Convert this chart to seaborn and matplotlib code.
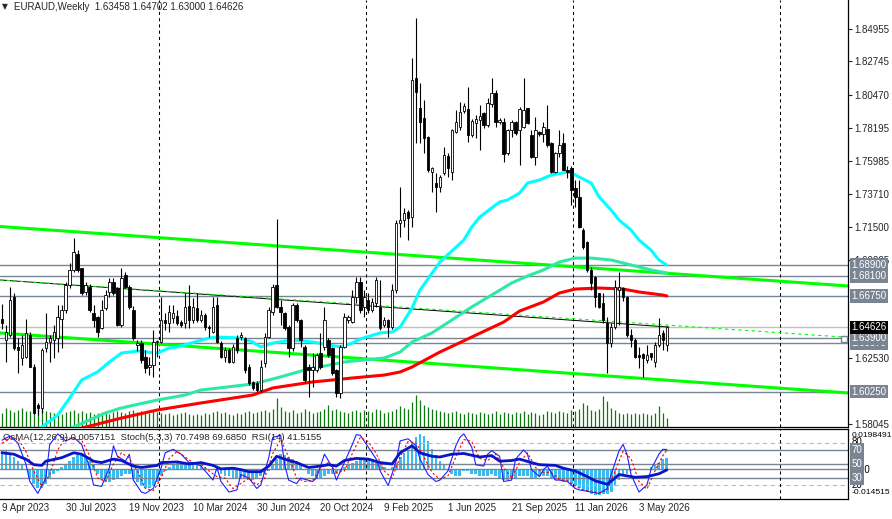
import numpy as np
import pandas as pd
import matplotlib
matplotlib.use('Agg')
import matplotlib.pyplot as plt
import matplotlib.transforms as mtransforms
import seaborn as sns

sns.set_style('white')
plt.rcParams['font.family'] = ['Liberation Sans', 'DejaVu Sans']

# EURAUD weekly candles, first bar = week of 9 Apr 2023
opens = [
    1.6520, 1.6377, 1.6411, 1.6672, 1.6330, 1.6252, 1.6263, 1.6411, 1.6195, 1.5934,
    1.5911, 1.6320, 1.6365, 1.6377, 1.6388, 1.6520, 1.6581, 1.6751, 1.6853, 1.6960,
    1.6865, 1.6706, 1.6740, 1.6558, 1.6535, 1.6456, 1.6592, 1.6706, 1.6774, 1.6729,
    1.6479, 1.6819, 1.6740, 1.6580, 1.6342, 1.6354, 1.6263, 1.6195, 1.6206, 1.6365,
    1.6365, 1.6513, 1.6490, 1.6524, 1.6540, 1.6501, 1.6490, 1.6608, 1.6513, 1.6592,
    1.6513, 1.6547, 1.6467, 1.6433, 1.6615, 1.6354, 1.6263, 1.6308, 1.6229, 1.6388,
    1.6399, 1.6388, 1.6195, 1.6092, 1.6081, 1.6036, 1.6217, 1.6399, 1.6570, 1.6751,
    1.6604, 1.6558, 1.6467, 1.6320, 1.6615, 1.6513, 1.6331, 1.6195, 1.6172, 1.6172,
    1.6286, 1.6331, 1.6376, 1.6320, 1.6172, 1.6013, 1.6331, 1.6513, 1.6501, 1.6672,
    1.6774, 1.6604, 1.6649, 1.6581, 1.6626, 1.6604, 1.6479, 1.6513, 1.6467, 1.6717,
    1.7171, 1.7194, 1.7251, 1.7217, 1.8159, 1.7955, 1.7887, 1.7762, 1.7524, 1.7444,
    1.7421, 1.7512, 1.7630, 1.7524, 1.7796, 1.7826, 1.7937, 1.7948, 1.7773, 1.7853,
    1.7876, 1.7926, 1.7842, 1.7982, 1.8057, 1.7860, 1.7864, 1.7648, 1.7807, 1.7864,
    1.7807, 1.7830, 1.7955, 1.7773, 1.7626, 1.7796, 1.7780, 1.7814, 1.7717, 1.7524,
    1.7648, 1.7717, 1.7535, 1.7546, 1.7410, 1.7353, 1.7126, 1.7047, 1.6854, 1.6808,
    1.6695, 1.6626, 1.6490, 1.6354, 1.6467, 1.6717, 1.6729, 1.6672, 1.6411, 1.6377,
    1.6274, 1.6281, 1.6240, 1.6286, 1.6229, 1.6343, 1.6422, 1.63458]
highs = [
    1.6620, 1.6479, 1.6740, 1.6694, 1.6388, 1.6411, 1.6517, 1.6430, 1.6210, 1.5950,
    1.6320, 1.6558, 1.6411, 1.6479, 1.6615, 1.6615, 1.6770, 1.6899, 1.7069, 1.6990,
    1.6870, 1.6770, 1.6760, 1.6615, 1.6540, 1.6649, 1.6717, 1.6797, 1.6800, 1.6735,
    1.6865, 1.6842, 1.6750, 1.6610, 1.6380, 1.6380, 1.6308, 1.6263, 1.6444, 1.6376,
    1.6672, 1.6558, 1.6615, 1.6615, 1.6581, 1.6510, 1.6694, 1.6751, 1.6660, 1.6694,
    1.6581, 1.6560, 1.6480, 1.6672, 1.6672, 1.6370, 1.6331, 1.6320, 1.6350, 1.6410,
    1.6430, 1.6400, 1.6210, 1.6100, 1.6100, 1.6240, 1.6422, 1.6600, 1.6760, 1.7200,
    1.6649, 1.6570, 1.6480, 1.6626, 1.6626, 1.6520, 1.6340, 1.6210, 1.6286, 1.6290,
    1.6422, 1.6604, 1.6390, 1.6330, 1.6180, 1.6340, 1.6558, 1.6550, 1.6717, 1.6808,
    1.6808, 1.6717, 1.6694, 1.6660, 1.6808, 1.6785, 1.6535, 1.6520, 1.6760, 1.7194,
    1.7421, 1.7273, 1.7260, 1.8296, 1.8568, 1.8125, 1.8012, 1.7770, 1.7558, 1.7512,
    1.7500, 1.7694, 1.7648, 1.7815, 1.7944, 1.8000, 1.7994, 1.8103, 1.7880, 1.7910,
    1.7978, 1.7930, 1.8023, 1.8159, 1.8080, 1.7890, 1.7887, 1.7815, 1.7876, 1.7870,
    1.7966, 1.8159, 1.7960, 1.7805, 1.7898, 1.7800, 1.7864, 1.7978, 1.7725, 1.7660,
    1.7807, 1.7785, 1.7560, 1.7560, 1.7467, 1.7467, 1.7140, 1.7050, 1.6876, 1.6815,
    1.6700, 1.6695, 1.6536, 1.6490, 1.6786, 1.6842, 1.6740, 1.6680, 1.6450, 1.6390,
    1.6331, 1.6290, 1.6343, 1.6290, 1.6365, 1.6524, 1.6445, 1.64702]
lows = [
    1.6450, 1.6229, 1.6399, 1.6308, 1.6149, 1.6206, 1.6252, 1.6190, 1.5870, 1.5866,
    1.5880, 1.6297, 1.6229, 1.6252, 1.6297, 1.6320, 1.6560, 1.6729, 1.6842, 1.6842,
    1.6683, 1.6683, 1.6570, 1.6467, 1.6399, 1.6451, 1.6581, 1.6672, 1.6683, 1.6470,
    1.6467, 1.6729, 1.6590, 1.6380, 1.6300, 1.6217, 1.6149, 1.6138, 1.6127, 1.6263,
    1.6354, 1.6444, 1.6433, 1.6490, 1.6479, 1.6467, 1.6456, 1.6456, 1.6490, 1.6501,
    1.6500, 1.6444, 1.6399, 1.6422, 1.6354, 1.6251, 1.6229, 1.6217, 1.6217, 1.6290,
    1.6376, 1.6149, 1.6070, 1.6036, 1.6020, 1.6024, 1.6195, 1.6390, 1.6550, 1.6592,
    1.6479, 1.6445, 1.6263, 1.6300, 1.6501, 1.6331, 1.6081, 1.5990, 1.6058, 1.6160,
    1.6180, 1.6308, 1.6263, 1.6140, 1.5990, 1.5979, 1.6320, 1.6490, 1.6490, 1.6626,
    1.6558, 1.6535, 1.6558, 1.6570, 1.6604, 1.6445, 1.6467, 1.6400, 1.6450, 1.6694,
    1.7080, 1.7149, 1.7058, 1.7150, 1.7717, 1.7717, 1.7648, 1.7524, 1.7387, 1.7251,
    1.7387, 1.7501, 1.7490, 1.7467, 1.7785, 1.7807, 1.7921, 1.7728, 1.7760, 1.7751,
    1.7671, 1.7819, 1.7830, 1.7966, 1.7830, 1.7850, 1.7592, 1.7640, 1.7762, 1.7773,
    1.7569, 1.7819, 1.7850, 1.7614, 1.7569, 1.7770, 1.7728, 1.7694, 1.7512, 1.7512,
    1.7626, 1.7535, 1.7480, 1.7296, 1.7285, 1.7137, 1.7000, 1.6842, 1.6717, 1.6604,
    1.6592, 1.6490, 1.6150, 1.6330, 1.6450, 1.6480, 1.6640, 1.6399, 1.6331, 1.6252,
    1.6184, 1.6127, 1.6218, 1.6240, 1.6195, 1.6331, 1.6308, 1.63000]
closes = [
    1.6490, 1.6433, 1.6649, 1.6320, 1.6310, 1.6342, 1.6422, 1.6195, 1.5877, 1.5911,
    1.6308, 1.6365, 1.6388, 1.6433, 1.6535, 1.6581, 1.6751, 1.6853, 1.6978, 1.6853,
    1.6694, 1.6751, 1.6581, 1.6513, 1.6433, 1.6581, 1.6683, 1.6774, 1.6694, 1.6479,
    1.6797, 1.6740, 1.6604, 1.6388, 1.6354, 1.6240, 1.6183, 1.6206, 1.6365, 1.6370,
    1.6513, 1.6490, 1.6569, 1.6558, 1.6490, 1.6479, 1.6603, 1.6513, 1.6603, 1.6513,
    1.6547, 1.6467, 1.6456, 1.6603, 1.6365, 1.6263, 1.6308, 1.6229, 1.6331, 1.6308,
    1.6410, 1.6172, 1.6081, 1.6047, 1.6036, 1.6195, 1.6399, 1.6581, 1.6740, 1.6604,
    1.6570, 1.6456, 1.6320, 1.6615, 1.6513, 1.6376, 1.6104, 1.6172, 1.6195, 1.6274,
    1.6195, 1.6513, 1.6274, 1.6149, 1.6013, 1.6331, 1.6535, 1.6535, 1.6672, 1.6774,
    1.6581, 1.6672, 1.6581, 1.6638, 1.6785, 1.6456, 1.6513, 1.6467, 1.6717, 1.7171,
    1.7194, 1.7239, 1.7210, 1.8148, 1.8069, 1.7864, 1.7751, 1.7535, 1.7546, 1.7421,
    1.7490, 1.7637, 1.7546, 1.7807, 1.7864, 1.7932, 1.7971, 1.7773, 1.7869, 1.7880,
    1.7903, 1.7842, 1.7989, 1.8057, 1.7864, 1.7876, 1.7644, 1.7807, 1.7864, 1.7785,
    1.7948, 1.7944, 1.7857, 1.7626, 1.7807, 1.7778, 1.7830, 1.7705, 1.7524, 1.7648,
    1.7705, 1.7535, 1.7524, 1.7399, 1.7353, 1.7149, 1.7013, 1.6854, 1.6763, 1.6672,
    1.6604, 1.6513, 1.6354, 1.6467, 1.6740, 1.6740, 1.6672, 1.6411, 1.6377, 1.6263,
    1.6263, 1.6252, 1.6274, 1.6263, 1.6343, 1.6411, 1.6377, 1.64626]
volumes = [
    14, 19, 17, 15, 17, 19, 16, 16, 19, 18,
    20, 16, 15, 14, 15, 13, 15, 16, 17, 14,
    16, 14, 15, 13, 14, 15, 14, 13, 15, 16,
    15, 14, 16, 17, 15, 16, 15, 14, 16, 15,
    14, 13, 14, 12, 13, 14, 15, 13, 12, 13,
    12, 14, 13, 15, 16, 14, 15, 13, 12, 14,
    13, 15, 16, 14, 15, 16, 17, 15, 18, 29,
    20, 16, 15, 17, 14, 15, 18, 16, 14, 15,
    16, 18, 22, 17, 18, 16, 15, 14, 16, 17,
    15, 17, 16, 15, 18, 17, 14, 15, 16, 18,
    21, 19, 18, 25, 32, 27, 22, 20, 18, 17,
    16, 15, 14, 15, 16, 14, 13, 15, 14, 13,
    15, 14, 13, 14, 16, 13, 15, 14, 13, 15,
    14, 16, 13, 15, 14, 12, 13, 16, 15, 14,
    16, 15, 14, 17, 16, 18, 24, 22, 17, 16,
    18, 31, 26, 19, 17, 14, 13, 14, 13, 14,
    13, 14, 13, 12, 14, 21, 14, 9]

# moving averages (bar index, price)
ma_fast_bars = [7, 10, 14, 17, 20, 24, 27, 30, 34, 39, 42, 44, 52, 54, 60, 63, 65, 68, 73, 78,
                85, 88, 90, 95, 98, 100, 103, 105, 110, 116, 118, 120, 125, 127, 130, 132,
                135, 138, 142, 143, 145, 148, 150, 153, 155, 158, 160, 163, 165, 167]
ma_fast = [1.5660, 1.5784, 1.5866, 1.5982, 1.6104, 1.6159, 1.6227, 1.6288, 1.6302, 1.6288,
           1.6322, 1.6329, 1.6390, 1.6397, 1.6390, 1.6363, 1.6329, 1.6356, 1.6377, 1.6363,
           1.6329, 1.6356, 1.6384, 1.6425, 1.6431, 1.6465, 1.6595, 1.6717, 1.6908, 1.7058,
           1.7147, 1.7215, 1.7317, 1.7331, 1.7378, 1.7446, 1.7467, 1.7501, 1.7521, 1.7515,
           1.7487, 1.7446, 1.7351, 1.7262, 1.7194, 1.7126, 1.7058, 1.6990, 1.6922, 1.6888]
ma_mid_bars = [15, 18, 26, 30, 39, 46, 50, 63, 69, 76, 86, 96, 100, 103, 108, 113, 118, 123,
               128, 132, 136, 140, 144, 148, 153, 158, 163, 167]
ma_mid = [1.5740, 1.5784, 1.5880, 1.5914, 1.5968, 1.6002, 1.6036, 1.6077, 1.6118, 1.6172,
          1.6227, 1.6254, 1.6295, 1.6363, 1.6425, 1.6513, 1.6602, 1.6683, 1.6765, 1.6813,
          1.6854, 1.6908, 1.6935, 1.6935, 1.6922, 1.6888, 1.6854, 1.6833]
ma_slow_bars = [17, 21, 30, 39, 50, 63, 68, 78, 88, 96, 100, 103, 110, 118, 126, 130, 136,
                140, 144, 150, 156, 160, 166, 167]
ma_slow = [1.5755, 1.5784, 1.5845, 1.5900, 1.5948, 1.6002, 1.6050, 1.6091, 1.6118, 1.6138,
           1.6159, 1.6193, 1.6295, 1.6397, 1.6499, 1.6574, 1.6636, 1.6697, 1.6724, 1.6731,
           1.6724, 1.6704, 1.6683, 1.6677]

# trend lines (bar, price) and horizontal levels
chan_bars = [-0.5, 212.5]
chan_upper = [1.7150, 1.6745]
chan_lower = [1.6425, 1.6016]
mid_bars = [-0.5, 167.5]
mid_line = [1.6786, 1.6465]
mid_dash = [1.6786, 1.6395]
levels = [1.68900, 1.68100, 1.66750, 1.63570, 1.63900, 1.60250]
bid = 1.64626
price_ticks = [1.84955, 1.82745, 1.80470, 1.78195, 1.75985, 1.73710, 1.71500, 1.69225,
               1.62530, 1.58045]

# oscillators
osma = [
    0.009, 0.009, 0.008, 0.006, 0.004, 0.002, 0.0003, -0.004, -0.007, -0.009,
    -0.009, -0.007, -0.004, -0.002, -0.001, 0.001, 0.002, 0.004, 0.006, 0.007,
    0.007, 0.006, 0.004, 0.002, -0.002, -0.005, -0.006, -0.006, -0.005, -0.004,
    -0.003, -0.002, -0.002, -0.004, -0.006, -0.008, -0.009, -0.009, -0.008, -0.006,
    -0.003, -0.001, 0.001, 0.002, 0.003, 0.003, 0.003, 0.003, 0.003, 0.002,
    0.002, 0.001, 0.0003, 0.0002, -0.001, -0.002, -0.003, -0.003, -0.004, -0.004,
    -0.004, -0.004, -0.005, -0.005, -0.004, -0.003, -0.002, -0.001, 0.002, 0.005,
    0.0075, 0.007, 0.006, 0.005, 0.004, 0.002, 0.0003, -0.002, -0.003, -0.004,
    -0.004, -0.003, -0.002, -0.002, -0.002, -0.001, 0.001, 0.002, 0.003, 0.004,
    0.005, 0.005, 0.005, 0.004, 0.004, 0.003, 0.001, 0.0003, 0.001, 0.003,
    0.006, 0.008, 0.009, 0.013, 0.016, 0.0175, 0.0165, 0.014, 0.010, 0.007,
    0.004, 0.002, 0.0003, -0.002, -0.003, -0.003, -0.001, -0.001, -0.002, -0.002,
    -0.003, -0.003, -0.003, -0.002, -0.003, -0.004, -0.005, -0.005, -0.004, -0.004,
    -0.003, -0.003, -0.003, -0.004, -0.004, -0.003, -0.003, -0.003, -0.004, -0.005,
    -0.005, -0.006, -0.006, -0.007, -0.008, -0.009, -0.010, -0.011, -0.012, -0.0125,
    -0.0125, -0.012, -0.012, -0.011, -0.008, -0.005, -0.003, -0.002, -0.001, -0.0005,
    -0.0005, 0.0004, 0.0004, 0.001, 0.002, 0.003, 0.005, 0.0057151]
osma_min, osma_max = -0.014515, 0.0198491

stoch_bars = [0, 2, 4, 6, 7, 9, 11, 12, 14, 16, 18, 20, 22, 23, 25, 27, 28, 29, 31, 32,
              33, 35, 36, 38, 40, 41, 43, 45, 47, 48, 50, 53, 54, 55, 57, 59, 60, 62, 64, 65,
              67, 68, 70, 71, 72, 74, 75, 78, 79, 81, 83, 84, 86, 88, 89, 90, 92, 94, 95, 97,
              99, 100, 102, 104, 105, 107, 109, 110, 112, 114, 115, 116, 118, 119, 121, 122,
              123, 125, 126, 128, 129, 131, 132, 133, 135, 136, 137, 139, 140, 142, 144, 145,
              148, 150, 152, 153, 155, 156, 157, 158, 160, 162, 163, 165, 166, 167]
stoch_main = [84, 90, 80, 50, 25, 8, 30, 78, 93, 83, 88, 78, 45, 20, 18, 45, 76, 61, 54, 64,
              27, 10, 8, 15, 45, 66, 71, 64, 52, 52, 47, 27, 45, 25, 10, 13, 35, 30, 15, 20,
              59, 88, 91, 49, 27, 22, 30, 25, 30, 64, 45, 27, 52, 78, 92, 91, 74, 57, 40, 19,
              54, 83, 86, 76, 57, 35, 25, 27, 40, 76, 88, 93, 74, 49, 47, 64,
              69, 61, 25, 27, 57, 70, 64, 42, 32, 42, 47, 27, 27, 25, 15, 13,
              10, 8, 15, 35, 69, 78, 64, 35, 10, 20, 42, 64, 71, 70.7498]
sig_bars = list(range(0, 167, 2)) + [167]
stoch_sig = [80, 86, 86, 68, 40, 18, 35, 70, 88, 86, 84, 62, 30, 25, 50, 66, 58, 40, 15, 12,
             30, 58, 68, 60, 52, 50, 40, 32, 30, 15, 22, 30, 20, 30, 65, 85, 60, 30, 25, 26,
             45, 52, 38, 40, 65, 88, 82, 65, 40, 30, 60, 82, 80, 60, 38, 28, 33, 60, 85, 82,
             58, 55, 64, 45, 30, 52, 66, 45, 38, 38, 28, 26, 18, 13, 11, 9, 12, 40, 68, 58,
             25, 14, 40, 62, 69.6850]
rsi_bars = [0, 3, 5, 6, 8, 10, 11, 15, 18, 20, 23, 25, 28, 30, 33, 35, 39, 40, 44, 47,
            50, 53, 55, 58, 60, 62, 65, 67, 69, 71, 74, 77, 80, 82, 84, 86, 89, 92, 95, 98,
            100, 103, 105, 108, 110, 113, 116, 120, 123, 125, 128, 130, 133, 135, 139, 141,
            144, 147, 149, 152, 154, 155, 159, 162, 165, 167]
rsi = [66, 64, 59, 57, 49, 48, 54, 59, 66, 64, 54, 52, 57, 55, 47, 45, 48, 52, 53, 50,
       52, 48, 43, 44, 42, 39, 39, 47, 61, 57, 52, 45, 47, 49, 47, 55, 58, 57, 52, 50,
       66, 76, 66, 61, 60, 64, 65, 60, 62, 54, 55, 57, 52, 49, 48, 44,
       40, 32, 26, 21, 30, 35, 31, 32, 36, 41.5155]

dates = pd.date_range('2023-04-09', periods=len(closes), freq='7D')
bars = np.arange(len(closes))
separators = [39.5, 91.5, 143.5, 195.5]
label_bars = list(range(0, len(closes), 16))

LEVEL_C = '#7A8593'
W, H = 892, 519
fig = plt.figure(figsize=(W / 100, H / 100), dpi=100)
fig.patch.set_facecolor('white')
main_rect = [0, (H - 427) / H, 848 / W, 427 / H]
ind_rect = [0, (H - 499) / H, 848 / W, 70 / H]

# volume underlay
vax = fig.add_axes(main_rect, zorder=0)
vax.vlines(bars, 0, volumes, color='#0E7A0E', lw=0.9)
vax.set_ylim(0, 427)
vax.set_xlim(-0.5, 212.5)
vax.axis('off')

ax = fig.add_axes(main_rect, zorder=1)
ax.patch.set_alpha(0)

for lv in levels:
    ax.axhline(lv, color=LEVEL_C, lw=1.0, zorder=1)
ax.axhline(bid, color='#C0C0C0', lw=1.0, zorder=1)
for s in separators:
    ax.axvline(s, color='black', lw=0.75, ls=(0, (3, 3)), zorder=1)

ax.plot(chan_bars, chan_upper, color='#00FF00', lw=2.2, zorder=2)
ax.plot(chan_bars, chan_lower, color='#00FF00', lw=2.2, zorder=2)
ax.plot(mid_bars, mid_line, color='black', lw=0.7, zorder=2)
ax.plot(chan_bars, mid_dash, color='#00FF00', lw=0.8, ls=(0, (3, 3)), zorder=2)

sns.lineplot(x=ma_fast_bars, y=ma_fast, ax=ax, color='#00FFFF', lw=2.2, zorder=3)
sns.lineplot(x=ma_mid_bars, y=ma_mid, ax=ax, color='#2EE8A8', lw=2.2, zorder=3)
sns.lineplot(x=ma_slow_bars, y=ma_slow, ax=ax, color='#FF0000', lw=2.2, zorder=3)

o = np.array(opens)
c = np.array(closes)
ax.vlines(bars, lows, highs, color='black', lw=0.8, zorder=4)
body_lo = np.minimum(o, c)
body_h = np.maximum(np.abs(c - o), 0.0003)
body_col = ['white' if cc >= oo else 'black' for oo, cc in zip(o, c)]
ax.bar(bars, body_h, bottom=body_lo, width=0.62, color=body_col,
       edgecolor='black', linewidth=0.6, zorder=5)

ax.plot([211.5], [1.6385], marker='s', ms=4, mfc='white', mec=LEVEL_C, zorder=5)

ax.set_xlim(-0.5, 212.5)
ax.set_ylim(1.57842, 1.86931)
ax.set_xticks([])
ax.yaxis.tick_right()
ax.set_yticks(price_ticks)
ax.set_yticklabels([f'{t:.5f}' for t in price_ticks])
ax.tick_params(axis='y', direction='out', length=3, width=0.8, pad=1.5, labelsize=7)
ax.set_xlabel('')
ax.set_ylabel('')
for side in ['left', 'top']:
    ax.spines[side].set_visible(False)
for side in ['right', 'bottom']:
    ax.spines[side].set_color('black')
    ax.spines[side].set_linewidth(0.9)

off = mtransforms.ScaledTranslation(2.5 / 72, 0, fig.dpi_scale_trans)
ptr = mtransforms.blended_transform_factory(ax.transAxes, ax.transData) + off


def tag(axis, tr, y, text, fc=None, tc='white', z=6, size=7):
    box = None if fc is None else dict(boxstyle='square,pad=0.18', fc=fc, ec='none')
    axis.text(1.0, y, text, transform=tr, ha='left', va='center', fontsize=size,
              color=tc, bbox=box, clip_on=False, zorder=z)


for lv in levels:
    tag(ax, ptr, lv, f'{lv:.5f}', fc=LEVEL_C)
tag(ax, ptr, bid, f'{bid:.5f}', fc='black', z=7)

# indicator panel
axo = fig.add_axes(ind_rect, zorder=2)
axo.bar(bars, osma, width=0.7, color='#39BDF0', linewidth=0)
axo.set_ylim(osma_min, osma_max)
axo.set_xlim(-0.5, 212.5)
axo.axis('off')

axi = fig.add_axes(ind_rect, zorder=3)
axi.patch.set_alpha(0)
for lv in [80, 20]:
    axi.axhline(lv, color='#BDBDBD', lw=0.8, ls=(0, (4, 3)))
for lv in [70, 50, 30]:
    axi.axhline(lv, color=LEVEL_C, lw=1.0)
zero_pct = 100 * (0 - osma_min) / (osma_max - osma_min)
axi.axhline(zero_pct, color=LEVEL_C, lw=1.0)
for s in separators:
    axi.axvline(s, color='black', lw=0.75, ls=(0, (3, 3)))

sns.lineplot(x=stoch_bars, y=stoch_main, ax=axi, color='#1E1EFF', lw=0.8)
sns.lineplot(x=sig_bars, y=stoch_sig, ax=axi, color='#FF0000', lw=0.8, linestyle=(0, (2, 2)))
sns.lineplot(x=rsi_bars, y=rsi, ax=axi, color='#0A14C8', lw=2.0)

axi.set_xlim(-0.5, 212.5)
axi.set_ylim(0, 100)
axi.set_yticks([])
axi.set_xlabel('')
axi.set_ylabel('')
axi.set_xticks(label_bars)
axi.set_xticklabels([f'{d.day} {d.strftime("%b %Y")}' for d in dates[label_bars]])
axi.tick_params(axis='x', length=0, pad=3, labelsize=7)
for lbl in axi.get_xticklabels():
    lbl.set_ha('left')
axi.spines['left'].set_visible(False)
for side in ['right', 'bottom', 'top']:
    axi.spines[side].set_color('black')
    axi.spines[side].set_linewidth(0.9)

itr = mtransforms.blended_transform_factory(axi.transAxes, axi.transData) + off
tag(axi, itr, 90.8, f'{osma_max:.7f}', tc='black', z=5, size=6.1)
tag(axi, itr, 81.5, '80', tc='black', z=5)
tag(axi, itr, 42.0, '0.00', tc='black', z=5)
tag(axi, itr, 20.0, '20', tc='black', z=5)
tag(axi, itr, 9.5, f'{osma_min:.6f}', tc='black', z=5, size=6.1)
for lv in [70, 50, 30]:
    tag(axi, itr, lv, str(lv), fc=LEVEL_C)

fig.text(2 / W, 1 - 6.5 / H, '\u25bc', fontsize=5.5, va='center', family=['DejaVu Sans'])
fig.text(14 / W, 1 - 6.5 / H, 'EURAUD,Weekly  1.63458 1.64702 1.63000 1.64626',
         fontsize=7, va='center')
fig.text(3 / W, 1 - 437 / H,
         'OsMA(12,26,9) 0.0057151  Stoch(5,3,3) 70.7498 69.6850  RSI(14) 41.5155',
         fontsize=6.8, va='center', zorder=10)

fig.savefig('out.png', dpi=100)
